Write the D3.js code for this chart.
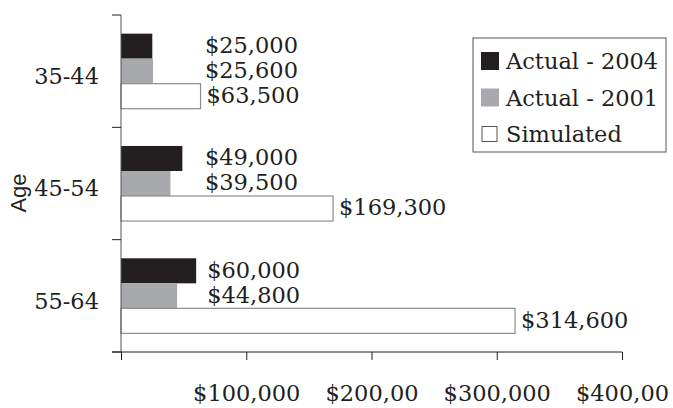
<!DOCTYPE html>
<html>
<head>
<meta charset="utf-8">
<script src="https://cdn.jsdelivr.net/npm/d3@7"></script>
<style>
  body { margin: 0; background: #fff; }
  text { font-family: "DejaVu Serif", serif; }
</style>
</head>
<body>
<div id="chart"></div>
<script>
const ages = ["35-44", "45-54", "55-64"];
const seriesNames = ["Actual - 2004", "Actual - 2001", "Simulated"];
const actual2004 = [25000, 49000, 60000];
const actual2001 = [25600, 39500, 44800];
const simulated = [63500, 169300, 314600];
const xTicks = [0, 100000, 200000, 300000, 400000];
const xTickLabels = ["", "$100,000", "$200,00", "$300,000", "$400,00"];

const width = 673, height = 408;
const margin = {top: 15, right: 51, bottom: 56, left: 121};

const values = [actual2004, actual2001, simulated];
const colors = ["#231f20", "#a7a9ac", "#fff"];
const strokes = ["none", "none", "#8c8c8c"];

const rows = ages.map((a, i) => ({
  age: a,
  bars: seriesNames.map((s, j) => ({age: a, series: s, idx: j, value: values[j][i]}))
}));

const svg = d3.create("svg")
    .attr("width", width)
    .attr("height", height)
    .attr("viewBox", [0, 0, width, height]);

const x = d3.scaleLinear()
    .domain([0, 400000])
    .range([margin.left, width - margin.right]);

const y0 = d3.scaleBand()
    .domain(ages)
    .range([margin.top, height - margin.bottom]);

const y1 = d3.scaleBand()
    .domain(seriesNames)
    .range([0, y0.bandwidth()])
    .paddingOuter(0.745);

const fmt = v => "$" + d3.format(",")(v);
const fontSize = 22.5;

// bars
const groups = svg.append("g")
  .selectAll("g")
  .data(rows)
  .join("g")
    .attr("transform", d => `translate(0,${y0(d.age)})`);

groups.selectAll("rect")
  .data(d => d.bars)
  .join("rect")
    .attr("x", x(0))
    .attr("y", d => y1(d.series))
    .attr("width", d => x(d.value) - x(0))
    .attr("height", y1.bandwidth())
    .attr("fill", d => colors[d.idx])
    .attr("stroke", d => strokes[d.idx])
    .attr("stroke-width", 1.2);

// value labels (first two series share a column per group)
groups.selectAll("text.val")
  .data(d => d.bars)
  .join("text")
    .attr("class", "val")
    .attr("x", d => {
      if (d.idx === 2) return x(d.value) + 6;
      const row = rows.find(r => r.age === d.age);
      const m = Math.max(row.bars[0].value, row.bars[1].value);
      return Math.max(x(m) + 11, x(67000));
    })
    .attr("y", d => y1(d.series) + y1.bandwidth() / 2 - 1)
    .attr("dy", "0.35em")
    .attr("font-size", fontSize)
    .attr("fill", "#231f20")
    .text(d => fmt(d.value));

// y axis
const yAxis = svg.append("g");
yAxis.append("line")
    .attr("x1", x(0)).attr("x2", x(0))
    .attr("y1", y0.range()[0]).attr("y2", y0.range()[1])
    .attr("stroke", "#555");
const bounds = ages.map(a => y0(a)).concat([y0.range()[1]]);
yAxis.selectAll("line.tick")
  .data(bounds)
  .join("line")
    .attr("class", "tick")
    .attr("x1", x(0) - 9).attr("x2", x(0))
    .attr("y1", d => d).attr("y2", d => d)
    .attr("stroke", "#231f20");
yAxis.selectAll("text")
  .data(ages)
  .join("text")
    .attr("x", x(0) - 22)
    .attr("y", d => y0(d) + y0.bandwidth() / 2 + 5)
    .attr("dy", "0.35em")
    .attr("text-anchor", "end")
    .attr("font-size", fontSize)
    .attr("fill", "#231f20")
    .text(d => d);

// x axis
const xAxis = svg.append("g")
    .attr("transform", `translate(0,${y0.range()[1]})`)
    .call(d3.axisBottom(x)
      .tickValues(xTicks)
      .tickSize(8)
      .tickPadding(25)
      .tickFormat((d, i) => xTickLabels[i]));
xAxis.select(".domain").remove();
xAxis.append("line")
    .attr("x1", x(0) - 9).attr("x2", x(400000))
    .attr("stroke", "#231f20");
xAxis.selectAll(".tick line").attr("stroke", "#231f20");
xAxis.selectAll(".tick text")
    .attr("font-family", "DejaVu Serif, serif")
    .attr("font-size", fontSize)
    .attr("fill", "#231f20");

// axis title
svg.append("text")
    .attr("transform", `translate(26,193) rotate(-90)`)
    .attr("text-anchor", "middle")
    .style("font-size", "22px")
    .style("font-family", "'Liberation Sans', Arial, sans-serif")
    .attr("fill", "#231f20")
    .text("Age");

// legend
const legend = svg.append("g")
    .attr("transform", "translate(473,38)");
legend.append("rect")
    .attr("width", 193)
    .attr("height", 114)
    .attr("fill", "#fff")
    .attr("stroke", "#555");
const item = legend.selectAll("g")
  .data(seriesNames)
  .join("g")
    .attr("transform", (d, i) => `translate(8,${23 + i * 36.5})`);
item.append("rect")
    .attr("x", (d, i) => i === 2 ? 1 : 0)
    .attr("y", (d, i) => i === 2 ? -7.5 : -9)
    .attr("width", (d, i) => i === 2 ? 15 : 18)
    .attr("height", (d, i) => i === 2 ? 15 : 18)
    .attr("fill", (d, i) => colors[i])
    .attr("stroke", (d, i) => i === 2 ? "#555" : "none");
item.append("text")
    .attr("x", 25)
    .attr("dy", "0.36em")
    .attr("font-size", fontSize)
    .attr("fill", "#231f20")
    .text(d => d);

document.getElementById("chart").appendChild(svg.node());
</script>
</body>
</html>
